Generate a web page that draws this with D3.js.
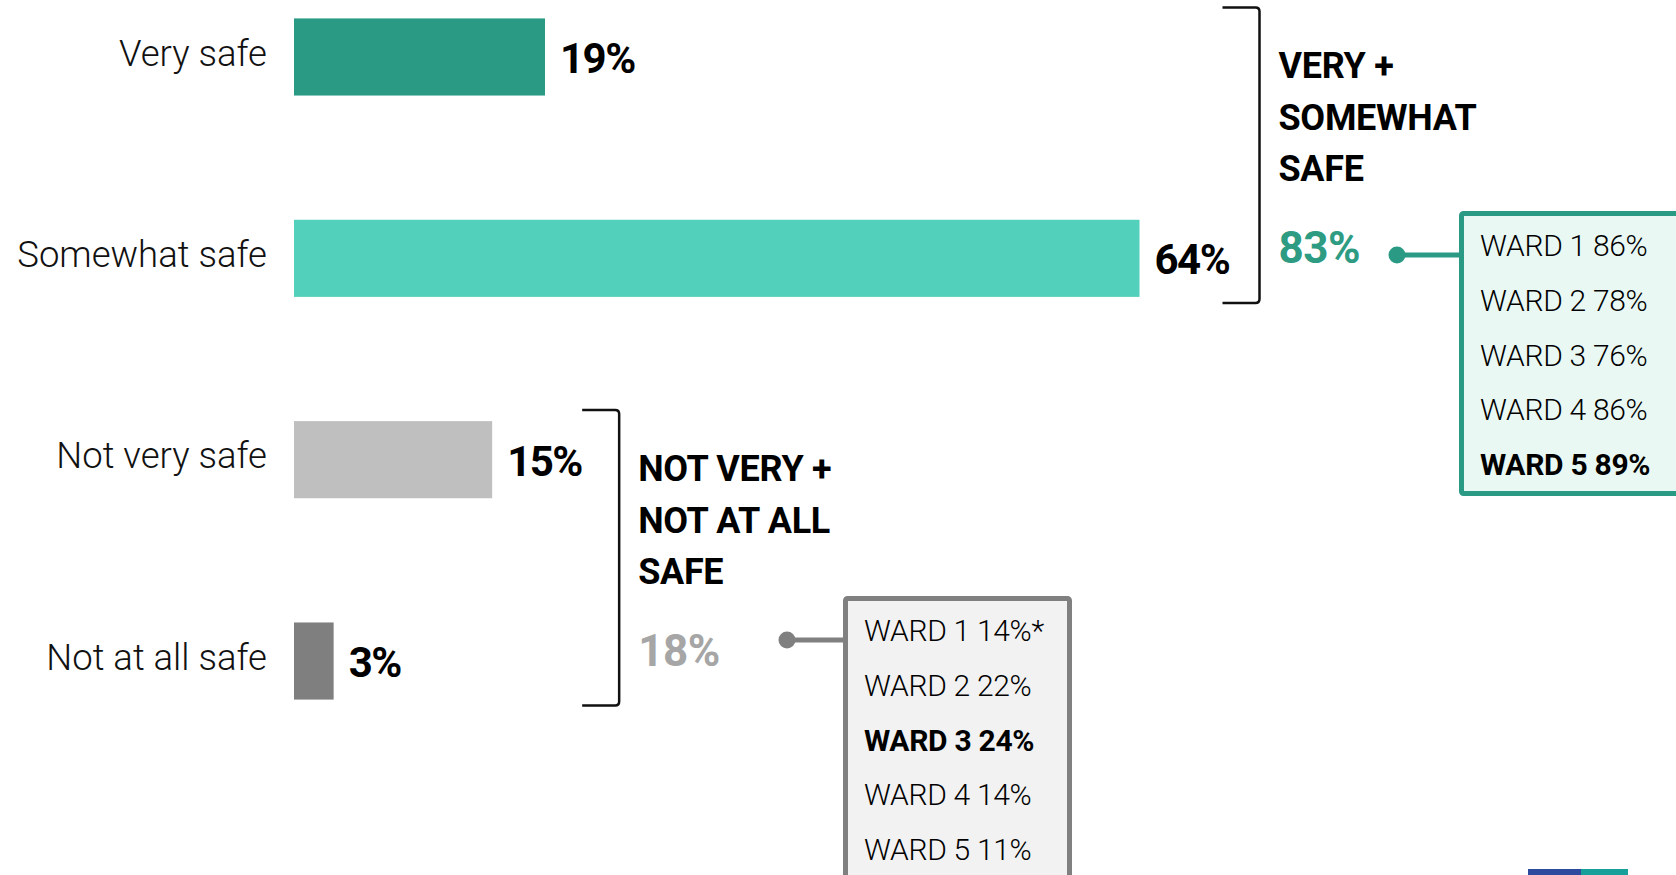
<!DOCTYPE html>
<html>
<head>
<meta charset="utf-8">
<script src="https://cdn.jsdelivr.net/npm/d3@7"></script>
<style>
  body { margin: 0; background: #fff; }
  svg { display: block; font-family: Roboto, "Noto Sans", sans-serif; }
</style>
</head>
<body>
<svg></svg>
<script>
var categories = ['Very safe', 'Somewhat safe', 'Not very safe', 'Not at all safe'];
var values = [19, 64, 15, 3];

var groupTitles = [['VERY +', 'SOMEWHAT', 'SAFE'], ['NOT VERY +', 'NOT AT ALL', 'SAFE']];
var groupTotals = [83, 18];
var groupRows = [[0, 1], [2, 3]];

var wardNames = ['WARD 1', 'WARD 2', 'WARD 3', 'WARD 4', 'WARD 5'];
var safeWards = [86, 78, 76, 86, 89];
var unsafeWards = [14, 22, 24, 14, 11];
var unsafeNotes = ['*', '', '', '', ''];
var highlightWard = ['WARD 5', 'WARD 3'];

var width = 1676;
var height = 875;

var svg = d3.select('svg')
    .attr('width', width)
    .attr('height', height);

var Xscale = d3.scaleLinear().domain([0, 64]).range([294, 1139.5]);
var Yscale = d3.scaleBand().domain(categories).range([18 - 62, 700 + 62])
    .paddingInner(0.617).paddingOuter(0.31);
var fillScale = d3.scaleOrdinal().domain(categories)
    .range(['#2a9a84', '#52d0bb', '#bfbfbf', '#7f7f7f']);

// bars
svg.selectAll('rect.bar')
    .data(values)
    .enter()
    .append('rect')
    .attr('class', 'bar')
    .attr('x', Xscale(0))
    .attr('y', (d, i) => Yscale(categories[i]))
    .attr('width', d => Xscale(d) - Xscale(0))
    .attr('height', Yscale.bandwidth())
    .attr('fill', (d, i) => fillScale(categories[i]));

// category labels
svg.selectAll('text.cat')
    .data(categories)
    .enter()
    .append('text')
    .attr('class', 'cat')
    .attr('x', 267)
    .attr('y', d => Yscale(d) + Yscale.bandwidth() / 2 - 4)
    .attr('dy', '0.35em')
    .attr('text-anchor', 'end')
    .attr('fill', '#111')
    .style('font-size', '36.5px')
    .style('font-weight', 300)
    .text(d => d);

// value labels
svg.selectAll('text.val')
    .data(values)
    .enter()
    .append('text')
    .attr('class', 'val')
    .attr('x', d => Xscale(d) + 15)
    .attr('y', (d, i) => Yscale(categories[i]) + Yscale.bandwidth() / 2 + 16)
    .attr('fill', '#000')
    .style('font-size', '42px')
    .style('font-weight', 700)
    .style('letter-spacing', '-1.5px')
    .text(d => d + '%');

// group brackets, titles, totals and ward boxes
var groupStyle = [
  {color: '#2a9a84', total: '#2e9b83', fill: '#eaf8f4', offset: 120, boxLeft: 1459, boxTop: 211, boxW: 260, dotX: 1397, wards: safeWards},
  {color: '#808080', total: '#a6a6a6', fill: '#f2f2f2', offset: 127, boxLeft: 843, boxTop: 596, boxW: 229, dotX: 787, wards: unsafeWards}
];

groupRows.forEach(function (rows, g) {
  var st = groupStyle[g];
  var top = Yscale(categories[rows[0]]) - 11;
  var bottom = Yscale(categories[rows[1]]) + Yscale.bandwidth() + 6;
  var bx = Xscale(d3.max(rows, r => values[r])) + st.offset;

  svg.append('path')
      .attr('d', `M${bx - 37},${top} L${bx - 4},${top} Q${bx},${top} ${bx},${top + 4} L${bx},${bottom - 4} Q${bx},${bottom} ${bx - 4},${bottom} L${bx - 37},${bottom}`)
      .attr('fill', 'none')
      .attr('stroke', '#111')
      .attr('stroke-width', 2.5);

  var tx = bx + 19;
  svg.append('g')
    .selectAll('text')
    .data(groupTitles[g])
    .enter()
    .append('text')
    .attr('x', tx)
    .attr('y', (d, i) => top + 71 + i * 51.5)
    .attr('fill', '#000')
    .style('font-size', '36px')
    .style('font-weight', 700)
    .style('letter-spacing', '-0.3px')
    .text(d => d);

  svg.append('text')
      .attr('x', tx)
      .attr('y', top + 256)
      .attr('fill', st.total)
      .style('font-size', '44px')
      .style('font-weight', 700)
      .style('letter-spacing', '-0.5px')
      .text(groupTotals[g] + '%');

  var dotY = st.boxTop + 44;
  svg.append('line')
      .attr('x1', st.dotX)
      .attr('x2', st.boxLeft)
      .attr('y1', dotY)
      .attr('y2', dotY)
      .attr('stroke', st.color)
      .attr('stroke-width', 5);

  svg.append('circle')
      .attr('cx', st.dotX)
      .attr('cy', dotY)
      .attr('r', 8.5)
      .attr('fill', st.color);

  svg.append('rect')
      .attr('x', st.boxLeft + 2.5)
      .attr('y', st.boxTop + 2.5)
      .attr('width', st.boxW - 5)
      .attr('height', 280)
      .attr('rx', 2)
      .attr('fill', st.fill)
      .attr('stroke', st.color)
      .attr('stroke-width', 5);

  svg.append('g')
    .selectAll('text')
    .data(st.wards)
    .enter()
    .append('text')
    .attr('x', st.boxLeft + 21)
    .attr('y', (d, i) => st.boxTop + 45 + i * 54.8)
    .attr('fill', '#000')
    .style('font-size', '30px')
    .style('font-weight', (d, i) => wardNames[i] == highlightWard[g] ? 700 : 300)
    .style('letter-spacing', '-0.3px')
    .text((d, i) => wardNames[i] + ' ' + d + '%' + (g == 1 ? unsafeNotes[i] : ''));
});

// corner logo stripes
svg.append('rect').attr('x', 1528).attr('y', 869).attr('width', 53).attr('height', 6).attr('fill', '#2e4a9e');
svg.append('rect').attr('x', 1581).attr('y', 869).attr('width', 47).attr('height', 6).attr('fill', '#17a09a');
</script>
</body>
</html>
